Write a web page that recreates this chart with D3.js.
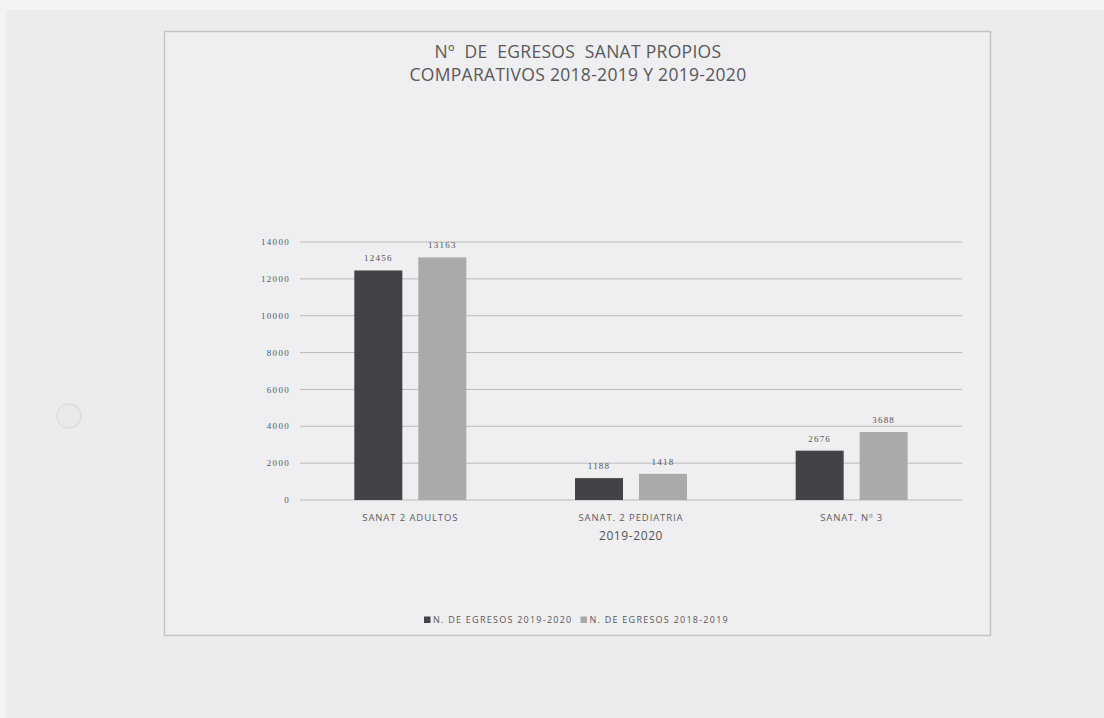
<!DOCTYPE html>
<html><head><meta charset="utf-8">
<script src="https://cdn.jsdelivr.net/npm/d3@7"></script>
<style>body{margin:0;background:#ecebed;}svg{display:block;font-family:"Open Sans","Noto Sans",sans-serif;}</style>
</head><body>
<script>
const categories = ["SANAT 2 ADULTOS", "SANAT. 2 PEDIATRIA", "SANAT. Nº 3"];
const seriesNames = ["N. DE EGRESOS 2019-2020", "N. DE EGRESOS 2018-2019"];
const values2019_2020 = [12456, 1188, 2676];
const values2018_2019 = [13163, 1418, 3688];
const yTicks = [0, 2000, 4000, 6000, 8000, 10000, 12000, 14000];
const titleLines = ["Nº  DE  EGRESOS  SANAT PROPIOS", "COMPARATIVOS 2018-2019 Y 2019-2020"];
const xAxisTitle = "2019-2020";

const W = 1104, H = 718;
const svg = d3.select("body").append("svg").attr("width", W).attr("height", H);
svg.append("rect").attr("width", W).attr("height", H).attr("fill", "#ecebed");
svg.append("rect").attr("width", W).attr("height", 10).attr("fill", "#f4f4f5");
svg.append("rect").attr("x",0).attr("y",0).attr("width", 6).attr("height", H).attr("fill", "#f4f4f5");
svg.append("circle").attr("cx",69).attr("cy",416).attr("r",12).attr("fill","#e9e8ea").attr("stroke","#dddcdf").attr("stroke-width",1.5);

// chart frame
svg.append("rect").attr("x",164.5).attr("y",31.5).attr("width",826).attr("height",604)
  .attr("fill","#efeef0").attr("stroke","#c4c3c6").attr("stroke-width",1.5);

const colors = ["#434246", "#aaa9ac"];
const x0 = d3.scaleBand().domain(categories).range([300, 962]);
const y = d3.scaleLinear().domain([0, 14000]).range([500, 242]);
const x1 = d3.scaleBand().domain([0,1]).range([0, 112]).paddingInner(0.25);

// gridlines
svg.append("g").selectAll("line").data(yTicks).join("line")
  .attr("x1", 300).attr("x2", 962).attr("y1", d => y(d)).attr("y2", d => y(d))
  .attr("stroke", "#b9b8bb").attr("stroke-width", 1);

// y axis labels
svg.append("g").selectAll("text").data(yTicks).join("text")
  .attr("x", 290).attr("y", d => y(d)).attr("dy", "0.35em").attr("text-anchor", "end")
  .attr("font-size", 9).attr("letter-spacing", 1.3).attr("fill", "#5a595c").attr("font-family", "Liberation Serif, serif")
  .text(d => d);

const data = categories.map((c, i) => ({cat: c, vals: [values2019_2020[i], values2018_2019[i]]}));
const g = svg.append("g").selectAll("g").data(data).join("g")
  .attr("transform", d => `translate(${x0(d.cat) + x0.bandwidth()/2 - 56},0)`);
g.selectAll("rect").data(d => d.vals.map((v, k) => ({v, k}))).join("rect")
  .attr("x", d => x1(d.k)).attr("width", x1.bandwidth())
  .attr("y", d => y(d.v)).attr("height", d => y(0) - y(d.v))
  .attr("fill", d => colors[d.k]);
g.selectAll("text").data(d => d.vals.map((v, k) => ({v, k}))).join("text")
  .attr("x", d => x1(d.k) + x1.bandwidth()/2).attr("y", d => y(d.v) - 9)
  .attr("text-anchor", "middle").attr("font-size", 9).attr("letter-spacing", 1.2).attr("fill", "#555457")
  .attr("font-family", "Liberation Serif, serif")
  .text(d => d.v);

// category labels
svg.append("g").selectAll("text").data(categories).join("text")
  .attr("x", d => x0(d) + x0.bandwidth()/2).attr("y", 521).attr("text-anchor", "middle")
  .attr("font-size", 9.5).attr("letter-spacing", 0.9).attr("fill", "#5e5d60").text(d => d);

svg.append("text").attr("x", 631).attr("y", 540).attr("text-anchor", "middle")
  .attr("font-size", 12).attr("letter-spacing", 0.6).attr("fill", "#555457").text(xAxisTitle);

// title
svg.append("g").selectAll("text").data(titleLines).join("text")
  .attr("x", 578).attr("y", (d, i) => 58 + i * 23).attr("text-anchor", "middle")
  .attr("font-size", 17.5).attr("letter-spacing", 0.3).attr("fill", "#59585b").attr("xml:space","preserve").text(d => d);

// legend
const lg = svg.append("g").attr("transform", "translate(424,620)");
let lx = 0;
seriesNames.forEach((n, i) => {
  lg.append("rect").attr("x", lx).attr("y", -3.5).attr("width", 6.5).attr("height", 6.5).attr("fill", colors[i]);
  const t = lg.append("text").attr("x", lx + 9).attr("y", 0).attr("dy", "0.35em")
    .attr("font-size", 9).attr("letter-spacing", 1.25).attr("fill", "#59585b").text(n);
  lx += 9 + t.node().getComputedTextLength() + 8;
});
</script>
</body></html>
